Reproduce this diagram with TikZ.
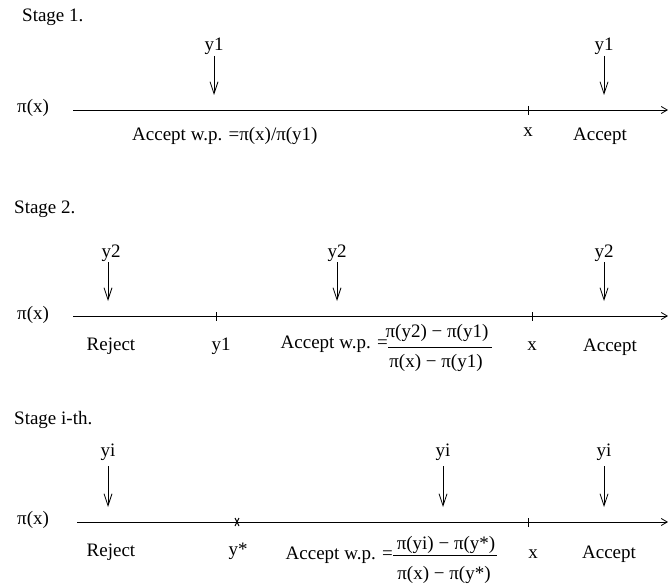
\documentclass[tikz,border=0pt]{standalone}
\usepackage{fontspec}
\setmainfont{Liberation Serif}
\usetikzlibrary{arrows.meta}
\begin{document}
\begin{tikzpicture}[x=1pt,y=-1pt,
  lbl/.style={inner sep=0pt,anchor=base,font=\fontsize{19}{22}\selectfont},
  lblw/.style={lbl,anchor=base west},
  lble/.style={lbl,anchor=base east},
  axis/.style={line width=0.8pt,-{Straight Barb[length=6pt,width=7pt]}},
  drop/.style={line width=0.8pt,-{Straight Barb[length=12pt,width=8pt]}},
  tick/.style={line width=0.8pt},
  bar/.style={line width=0.8pt}]
\useasboundingbox (0,0) rectangle (668,585);

% ---------------- Stage 1 ----------------
\node[lblw] (s1) at (22,22) {Stage 1.};
\node[lblw] (p1) at (17,113) {π(x)};
\coordinate (a1s) at (73,110);
\coordinate (a1e) at (668,110);
\draw[axis] (a1s) -- (a1e);
\draw[tick] (528,106) -- (528,115);
\node[lbl] (y1a) at (214,51) {y1};
\node[lbl] (y1b) at (604,51) {y1};
\coordinate (t1a) at (214,95);
\coordinate (t1b) at (604,95);
\draw[drop] (214,56) -- (t1a);
\draw[drop] (604,56) -- (t1b);
\node[lblw] (acc1) at (132,141) {Accept w.p. =π(x)/π(y1)};
\node[lbl] (x1) at (528,137) {x};
\node[lbl] (accr1) at (600,141) {Accept};

% ---------------- Stage 2 ----------------
\node[lblw] (s2) at (14,213) {Stage 2.};
\node[lblw] (p2) at (17,319) {π(x)};
\coordinate (a2s) at (73,316);
\coordinate (a2e) at (668,316);
\draw[axis] (a2s) -- (a2e);
\draw[tick] (216,312) -- (216,321);
\draw[tick] (532,312) -- (532,321);
\node[lbl] (y2a) at (111,257) {y2};
\node[lbl] (y2b) at (337,257) {y2};
\node[lbl] (y2c) at (604,257) {y2};
\coordinate (t2a) at (108,301);
\coordinate (t2b) at (337,301);
\coordinate (t2c) at (604,301);
\draw[drop] (108,262) -- (t2a);
\draw[drop] (337,262) -- (t2b);
\draw[drop] (604,262) -- (t2c);
\node[lbl] (rej2) at (111,350) {Reject};
\node[lbl] (y1c) at (221,350) {y1};
\node[lble] (acc2) at (388,348) {Accept w.p. =};
\node[lbl] (num2) at (437,337) {π(y2) − π(y1)};
\draw[bar] (388,347) -- (492,347);
\node[lbl] (den2) at (436,367) {π(x) − π(y1)};
\node[lbl] (x2) at (532,350) {x};
\node[lbl] (accr2) at (610,351) {Accept};

% ---------------- Stage i ----------------
\node[lblw] (s3) at (14,424) {Stage i-th.};
\node[lblw] (p3) at (17,524) {π(x)};
\coordinate (a3s) at (77,522);
\coordinate (a3e) at (668,522);
\draw[axis] (a3s) -- (a3e);
\draw[tick] (528,518) -- (528,527);
\draw[line width=1pt] (235,518) -- (239,526);
\draw[line width=1pt] (239,518) -- (235,526);
\node[lbl] (yia) at (108,456) {yi};
\node[lbl] (yib) at (443,456) {yi};
\node[lbl] (yic) at (604,456) {yi};
\coordinate (t3a) at (108,507);
\coordinate (t3b) at (443,507);
\coordinate (t3c) at (604,507);
\draw[drop] (108,466) -- (t3a);
\draw[drop] (443,466) -- (t3b);
\draw[drop] (604,466) -- (t3c);
\node[lbl] (rej3) at (111,556) {Reject};
\node[lbl] (ys) at (238,555) {y*};
\node[lble] (acc3) at (393,559) {Accept w.p. =};
\node[lbl] (num3) at (446,549) {π(yi) − π(y*)};
\draw[bar] (393,555) -- (497,555);
\node[lbl] (den3) at (444,579) {π(x) − π(y*)};
\node[lbl] (x3) at (533,558) {x};
\node[lbl] (accr3) at (609,558) {Accept};
\end{tikzpicture}
\end{document}
